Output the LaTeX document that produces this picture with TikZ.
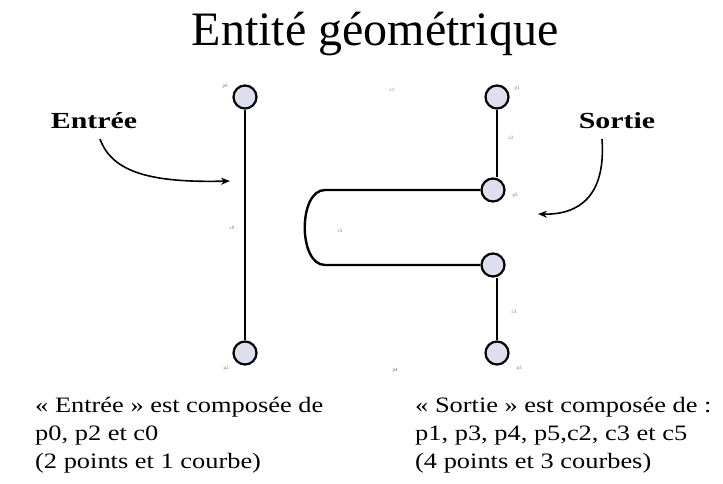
\documentclass[tikz,border=0pt]{standalone}
\usepackage{fontspec}
\setmainfont{Liberation Serif}
\newfontfamily\widefont[FakeStretch=1.2]{Liberation Serif}
\newfontfamily\widebold[FakeStretch=1.3]{Liberation Serif Bold}
\usetikzlibrary{arrows.meta}
\definecolor{pfill}{RGB}{222,222,238}
\begin{document}
\begin{tikzpicture}[x=1pt,y=-1pt,
  pt/.style={circle,draw=black,line width=2.2pt,fill=pfill,minimum size=23pt,inner sep=0pt},
  seg/.style={line width=2.4pt},
  tiny/.style={font=\fontsize{5}{6}\selectfont,text=black!55,inner sep=0pt},
  call/.style={line width=1.6pt,-{Stealth[length=9pt,width=7pt]}},
  lbl/.style={font=\widebold\fontsize{23}{26}\selectfont,inner sep=0pt},
  body/.style={font=\widefont\fontsize{22}{28}\selectfont,align=left,anchor=north west,inner sep=0pt}]
\useasboundingbox (0,0) rectangle (723,484);
\node[font=\fontsize{48}{52}\selectfont,inner sep=0pt,anchor=base] (title) at (375,46) {Entité géométrique};
% points
\node[pt] (p0) at (245,97) {};
\node[pt] (p2) at (245,353) {};
\node[pt] (p1) at (497,97) {};
\node[pt] (p5) at (493,190) {};
\node[pt] (p4) at (493,265) {};
\node[pt] (p3) at (497,353) {};
% curves
\draw[seg] (p0) -- (p2);
\draw[seg] (p1.south) -- (p1.south |- p5.north);
\draw[seg] (p3.north |- p4.south) -- (p3.north);
\coordinate (ka) at (325,190);
\coordinate (kb) at (325,265);
\draw[seg] (p5.west) -- (ka) .. controls (298,190) and (298,265) .. (kb) -- (p4.west);
% small labels
\node[tiny] (lp0) at (225,86) {p0};
\node[tiny] (lc1) at (392,90) {c1};
\node[tiny] (lp1) at (517,88) {p1};
\node[tiny] (lc2) at (511,138) {c2};
\node[tiny] (lp5) at (515,195) {p5};
\node[tiny] (lc0) at (232,228) {c0};
\node[tiny] (lc5) at (340,231) {c5};
\node[tiny] (lc3) at (514,312) {c3};
\node[tiny] (lp2) at (226,368) {p2};
\node[tiny] (lp4) at (395,370) {p4};
\node[tiny] (lp3) at (519,368) {p3};
% callouts
\node[lbl] (entree) at (94,121) {Entrée};
\node[lbl] (sortie) at (617,121) {Sortie};
\coordinate (ea) at (230,181);
\coordinate (sa) at (538,214);
\coordinate (es) at (100,139);
\coordinate (ss) at (602,139);
\draw[call] (es) .. controls (112,172) and (150,183) .. (ea);
\draw[call] (ss) .. controls (606,195) and (580,215) .. (sa);
% texts
\node[body] (tl) at (35,397) {« Entrée » est composée de\\p0, p2 et c0\\(2 points et 1 courbe)};
\node[body] (tr) at (415,397) {« Sortie » est composée de :\\p1, p3, p4, p5,c2, c3 et c5\\(4 points et 3 courbes)};
\end{tikzpicture}
\end{document}
